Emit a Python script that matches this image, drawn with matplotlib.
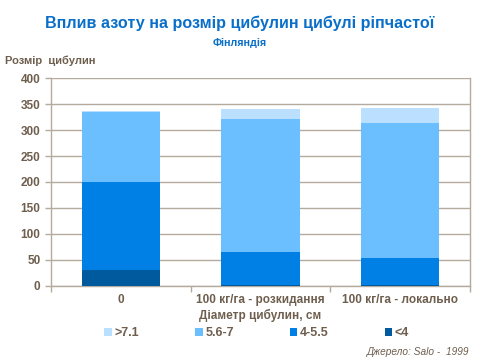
import matplotlib
matplotlib.use("Agg")
import matplotlib.pyplot as plt
import numpy as np

plt.rcParams["font.family"] = ["Liberation Sans", "DejaVu Sans"]

# ── Data ──
categories = ["0", "100 кг/га - розкидання", "100 кг/га - локально"]
series_names = ["<4", "4-5.5", "5.6-7", ">7.1"]
lt4 = [30, 2, 2]
d4_55 = [170, 63, 52]
d56_7 = [135, 256, 260]
gt71 = [2, 19, 28]
yticks = [0, 50, 100, 150, 200, 250, 300, 350, 400]

COLORS = {"<4": "#015a9e", "4-5.5": "#0080e4", "5.6-7": "#6bbfff", ">7.1": "#bbe0ff"}
TITLE_C = "#0a6fc8"
TEXT_C = "#6e5e4e"
GRID_C = "#b4aa9e"

fig = plt.figure(figsize=(4.8, 3.6), dpi=100)
ax = fig.add_axes([0.106, 0.206, 0.873, 0.577])

x = np.arange(len(categories))
bottom = np.zeros(len(categories))
handles = {}
for name, vals in zip(series_names, [lt4, d4_55, d56_7, gt71]):
    b = ax.bar(x, vals, 0.56, bottom=bottom, color=COLORS[name], zorder=3, linewidth=0)
    handles[name] = b
    bottom += np.array(vals)

ax.set_xlim(-0.5, 2.5)
ax.set_ylim(0, 400)
ax.set_yticks(yticks)
ax.grid(axis="y", color=GRID_C, linewidth=1, zorder=0)
ax.set_xticks(x)
ax.set_xticklabels(categories, fontsize=8.5, fontweight="bold", color=TEXT_C)
ax.set_xticks([-0.5, 0.5, 1.5, 2.5], minor=True)
ax.tick_params(axis="x", which="major", length=0, pad=6)
ax.tick_params(axis="x", which="minor", length=4, color=GRID_C, width=1)
ax.tick_params(axis="y", labelsize=8.5, labelcolor=TEXT_C, length=4, color=GRID_C, width=1)
for lbl in ax.get_yticklabels():
    lbl.set_fontweight("bold")
for s in ["left", "right", "bottom"]:
    ax.spines[s].set_color(GRID_C)
    ax.spines[s].set_linewidth(1)
ax.spines["top"].set_visible(False)

ax.set_xlabel("Діаметр цибулин, см", fontsize=8.5, fontweight="bold", color=TEXT_C, labelpad=2)

fig.text(0.5, 0.936, "Вплив азоту на розмір цибулин цибулі ріпчастої",
         ha="center", va="center", fontsize=11.6, fontweight="bold", color=TITLE_C)
fig.text(0.5, 0.881, "Фінляндія", ha="center", va="center",
         fontsize=7.7, fontweight="bold", color=TITLE_C)
fig.text(0.01, 0.831, "Розмір  цибулин", ha="left", va="center",
         fontsize=8, fontweight="bold", color=TEXT_C)
fig.text(0.978, 0.022, "Джерело: Salo -  1999", ha="right", va="center",
         fontsize=7.3, style="italic", color=TEXT_C)

order = [">7.1", "5.6-7", "4-5.5", "<4"]
leg = fig.legend([handles[n] for n in order], order, loc="center",
                 bbox_to_anchor=(0.535, 0.074), ncol=4, frameon=False,
                 fontsize=9, handlelength=0.6, handleheight=0.6,
                 handletextpad=0.2, columnspacing=4.5)
for t in leg.get_texts():
    t.set_fontweight("bold")
    t.set_color(TEXT_C)

fig.savefig("out.png", dpi=100)
